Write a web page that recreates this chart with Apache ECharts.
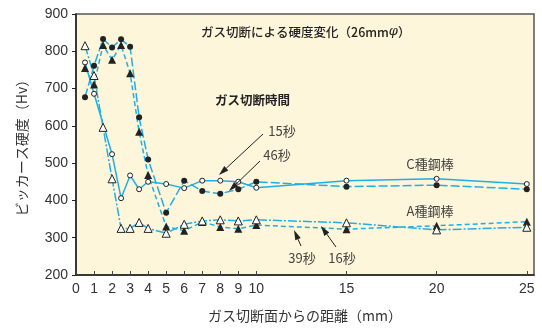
<!DOCTYPE html>
<html>
<head>
<meta charset="utf-8">
<script src="https://cdn.jsdelivr.net/npm/echarts@6/dist/echarts.min.js"></script>
<style>
  html, body { margin: 0; padding: 0; background: #fff; }
  #chart { width: 542px; height: 329px; }
</style>
</head>
<body>
<div id="chart"></div>
<script>
// distances from the cut face (mm)
const xAll = [0.5, 1, 1.5, 2, 2.5, 3, 3.5, 4, 5, 6, 7, 8, 9, 10, 15, 20, 25];
const xC15 = [0.5, 1, 2, 2.5, 3, 3.5, 4, 5, 6, 7, 8, 9, 10, 15, 20, 25];

// Vickers hardness (Hv)
const hvC15 = [770, 686, 524, 406, 467, 430, 450, 444, 433, 453, 453, 450, 434, 453, 458, 444];
const hvC46 = [677, 761, 833, 810, 832, 812, 623, 510, 367, 453, 425, 418, 430, 450, 437, 441, 430];
const hvA39 = [755, 711, 817, 777, 817, 741, 584, 468, 330, 319, 342, 329, 324, 334, 323, 332, 343];
const hvA16 = [815, 735, 596, 458, 325, 325, 341, 325, 312, 336, 345, 348, 345, 348, 340, 321, 328];

const xTicks = [0, 1, 2, 3, 4, 5, 6, 7, 8, 9, 10, 15, 20, 25];

const jp = '"Noto Sans CJK JP", sans-serif';
const num = '"Liberation Sans", Arial, sans-serif';
const lineColor = '#22aee4';

function pairs(xs, ys) {
    return xs.map((x, i) => [x, ys[i]]);
}

function arrow(x1, y1, x2, y2) {
    const ang = Math.atan2(y2 - y1, x2 - x1);
    const len = 10, half = 3;
    const bx = x2 - len * Math.cos(ang), by = y2 - len * Math.sin(ang);
    const px = -Math.sin(ang) * half, py = Math.cos(ang) * half;
    return [
        { type: 'line', shape: { x1: x1, y1: y1, x2: bx, y2: by }, style: { stroke: '#222', lineWidth: 1 }, z: 100 },
        { type: 'polygon', shape: { points: [[x2, y2], [bx + px, by + py], [bx - px, by - py]] }, style: { fill: '#222' }, z: 100 }
    ];
}

function label(text, x, y, opts) {
    return {
        type: 'text', x: x, y: y, z: 100,
        style: Object.assign({
            text: text, fill: '#444', font: '13px ' + jp,
            textAlign: 'center', textVerticalAlign: 'middle'
        }, opts || {})
    };
}

let myChart = echarts.init(document.getElementById('chart'));

let option = {
    animation: false,
    backgroundColor: '#fff',
    grid: {
        left: 76, right: 8, top: 14, bottom: 54,
        show: true, backgroundColor: '#fdf6da',
        borderColor: '#555', borderWidth: 1.5
    },
    xAxis: {
        type: 'value', min: 0, max: 25.4,
        name: 'ガス切断面からの距離（mm）',
        nameLocation: 'middle', nameGap: 34,
        nameTextStyle: { fontFamily: jp, fontSize: 14, color: '#333' },
        axisLine: { lineStyle: { color: '#222', width: 1.5 } },
        axisTick: { inside: true, length: 4, customValues: xTicks, lineStyle: { color: '#444' } },
        axisLabel: { customValues: xTicks, margin: 7, fontFamily: num, fontSize: 14, color: '#333' },
        splitLine: { show: false }
    },
    yAxis: {
        type: 'value', min: 200, max: 900, interval: 100,
        name: 'ビッカース硬度（Hv）',
        nameLocation: 'middle', nameGap: 47,
        nameTextStyle: { fontFamily: jp, fontSize: 14, color: '#333' },
        axisLine: { show: true, lineStyle: { color: '#222', width: 1.5 } },
        axisTick: { show: true, length: 4, lineStyle: { color: '#222' } },
        axisLabel: { margin: 8, fontFamily: num, fontSize: 14, color: '#333' },
        splitLine: { show: false }
    },
    series: [
        {
            name: 'C種 15秒', type: 'line', data: pairs(xC15, hvC15),
            symbol: 'circle', symbolSize: 5,
            itemStyle: { color: '#fff', borderColor: '#222', borderWidth: 1 },
            lineStyle: { color: lineColor, width: 1.5, type: 'solid' }
        },
        {
            name: 'C種 46秒', type: 'line', data: pairs(xAll, hvC46),
            symbol: 'circle', symbolSize: 6,
            itemStyle: { color: '#222', borderColor: '#222', borderWidth: 0 },
            lineStyle: { color: lineColor, width: 1.5, type: [9, 3] }
        },
        {
            name: 'A種 39秒', type: 'line', data: pairs(xAll, hvA39),
            symbol: 'triangle', symbolSize: 8,
            itemStyle: { color: '#222', borderColor: '#222', borderWidth: 0 },
            lineStyle: { color: lineColor, width: 1.5, type: [5, 3] }
        },
        {
            name: 'A種 16秒', type: 'line', data: pairs(xAll, hvA16),
            symbol: 'triangle', symbolSize: 8,
            itemStyle: { color: '#fff', borderColor: '#222', borderWidth: 1 },
            lineStyle: { color: lineColor, width: 1.5, type: [9, 2, 2, 2] }
        }
    ],
    graphic: [
        label('{a|ガス切断による硬度変化（26mm}{b|φ}{a|）}', 201, 32, {
            textAlign: 'left',
            rich: {
                a: { fill: '#222', font: '500 12.5px ' + jp },
                b: { fill: '#222', font: 'italic 13px "DejaVu Serif", serif' }
            }
        }),
        label('ガス切断時間', 215, 100, { textAlign: 'left', fill: '#222', font: 'bold 12.5px ' + jp }),
        label('15秒', 282, 131),
        label('46秒', 277, 155),
        label('C種鋼棒', 430, 164),
        label('A種鋼棒', 430, 211),
        label('39秒', 302, 258),
        label('16秒', 342, 258)
    ].concat(
        arrow(263, 134, 219, 175),
        arrow(260, 161, 229, 191),
        arrow(301, 246, 294, 230),
        arrow(336, 247, 321, 226)
    )
};

myChart.setOption(option);
</script>
</body>
</html>
